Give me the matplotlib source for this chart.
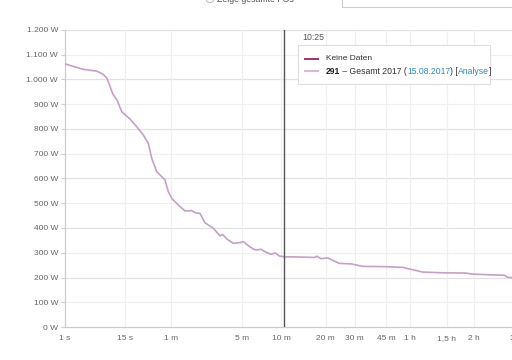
import matplotlib.pyplot as plt
from matplotlib.patches import Rectangle, Circle
import numpy as np

plt.rcParams['font.family'] = ['Liberation Sans', 'DejaVu Sans']

# power curve: duration in seconds, power in watts
duration_s = [1, 2.7, 5, 6.5, 7.7, 8.7, 9.7, 11.3, 13.4, 17.9,
              22.3, 27.4, 32, 35.4, 40.9, 51.5, 56.3, 61.6, 73.1, 86.4,
              101.6, 109.9, 123.4, 138.2, 165.8, 191.2, 202.3, 219.7, 250.9, 286.1,
              304.9, 335.1, 367.8, 386.4, 422.9, 462.1, 504.2, 542.8, 580.8, 620.9,
              763, 1013, 1050, 1119, 1234, 1455, 1709, 1997, 2579, 3290,
              3490, 3768, 4149, 5179, 6627, 6976, 8381, 9695, 10015, 10431]
power_w = [1063, 1041, 1034, 1022, 1005, 971, 940, 917, 870, 840,
           809, 776, 742, 681, 628, 594, 547, 520, 493, 469,
           470, 462, 459, 421, 399, 368, 374, 356, 338, 341,
           345, 329, 315, 311, 314, 302, 294, 299, 287, 284,
           283, 281, 286, 276, 279, 257, 255, 245, 244, 241,
           236, 230, 222, 219, 218, 214, 211, 209, 201, 199]

x_ticks = [1, 15, 60, 300, 600, 1200, 1800, 2700, 3600, 5400, 7200, 10800]
x_labels = ['1 s', '15 s', '1 m', '5 m', '10 m', '20 m', '30 m', '45 m',
            '1 h', '1,5 h', '2 h', '3 h']
y_ticks = list(range(0, 1300, 100))
cursor_s = 625
cursor_label = '10:25'

line_color = '#c6a0c6'
grey_text = '#666666'


def fwd(t):
    t = np.asarray(t, dtype=float)
    return np.sign(t) * np.abs(t) ** 0.2


def inv(u):
    u = np.asarray(u, dtype=float)
    return np.sign(u) * np.abs(u) ** 5


W, H = 512, 360
fig = plt.figure(figsize=(W / 100, H / 100), dpi=100)
ax = fig.add_axes([65 / W, 33 / H, (520 - 65) / W, 297 / H])

ax.set_xscale('function', functions=(fwd, inv))
ax.set_xlim(1, 11240)
ax.set_ylim(0, 1200)

for v in y_ticks[1:]:
    ax.axhline(v, color='#e2e2e2' if v % 200 == 0 else '#f0f0f0', lw=0.9, zorder=0)
for t in x_ticks[1:]:
    ax.axvline(t, color='#f0f0f0', lw=0.9, zorder=0)

ax.plot(duration_s, power_w, color=line_color, lw=1.2, zorder=3)
ax.axvline(cursor_s, color='#555555', lw=1.0, zorder=4)

ax.set_xticks(x_ticks)
ax.set_xticklabels(x_labels)
ax.set_yticks(y_ticks)
ax.set_yticklabels([f'{v:,}'.replace(',', '.') + ' W' for v in y_ticks])
ax.tick_params(axis='x', length=0, pad=9.2, labelsize=6, labelcolor=grey_text)
ax.tick_params(axis='y', length=3, width=0.8, color='#cccccc', pad=2,
               labelsize=6, labelcolor=grey_text)
for lbl in ax.get_xticklabels():
    lbl.set_va('baseline')

for side in ['top', 'right']:
    ax.spines[side].set_visible(False)
for side in ['left', 'bottom']:
    ax.spines[side].set_color('#cccccc')
    ax.spines[side].set_linewidth(0.9)


def px(x, y):
    return x / W, 1 - y / H


# tooltip
fig.text(*px(302, 38), cursor_label, fontsize=6.3, color='#555555', va='center')
fig.patches.append(Rectangle(px(298, 84), 192 / W, 39 / H, transform=fig.transFigure,
                             facecolor='white', edgecolor='#dddddd', lw=0.8, zorder=5))
fig.lines.append(plt.Line2D([305 / W, 318 / W], [1 - 59 / H] * 2,
                            transform=fig.transFigure, color='#a3336f', lw=1.4, zorder=6))
fig.lines.append(plt.Line2D([305 / W, 318 / W], [1 - 71 / H] * 2,
                            transform=fig.transFigure, color='#dcb6dc', lw=1.4, zorder=6))
fig.text(*px(326, 59), 'Keine Daten', fontsize=6, color='#333333', va='center', zorder=7)

parts = [('291', '#222222', 'bold'), (' – Gesamt 2017 (', '#333333', 'normal'),
         ('15.08.2017', '#2a8cc0', 'normal'), (') [', '#333333', 'normal'),
         ('Analyse', '#2a8cc0', 'normal'), (']', '#333333', 'normal')]

# mixed-style legend line built by chaining annotations
anchor = fig.text(*px(326, 71), parts[0][0], fontsize=6.2, color=parts[0][1],
                  fontweight=parts[0][2], va='center', zorder=7)
for txt, col, wt in parts[1:]:
    anchor = fig.add_artist(plt.Annotation(txt, xy=(1, 0.5), xycoords=anchor,
                                           va='center', ha='left', fontsize=6.2,
                                           color=col, fontweight=wt, zorder=7))

# page elements clipped at the top edge
fig.patches.append(Circle(px(210, 0), 3.5 / W, transform=fig.transFigure,
                          facecolor='white', edgecolor='#bbbbbb', lw=0.7))
fig.text(*px(217, 2), 'Zeige gesamte FOs', fontsize=6.3, color='#555555', va='baseline')
fig.patches.append(Rectangle(px(342, 7), 200 / W, 20 / H, transform=fig.transFigure,
                             facecolor='white', edgecolor='#cccccc', lw=0.8))

fig.savefig('out.png', dpi=100)
